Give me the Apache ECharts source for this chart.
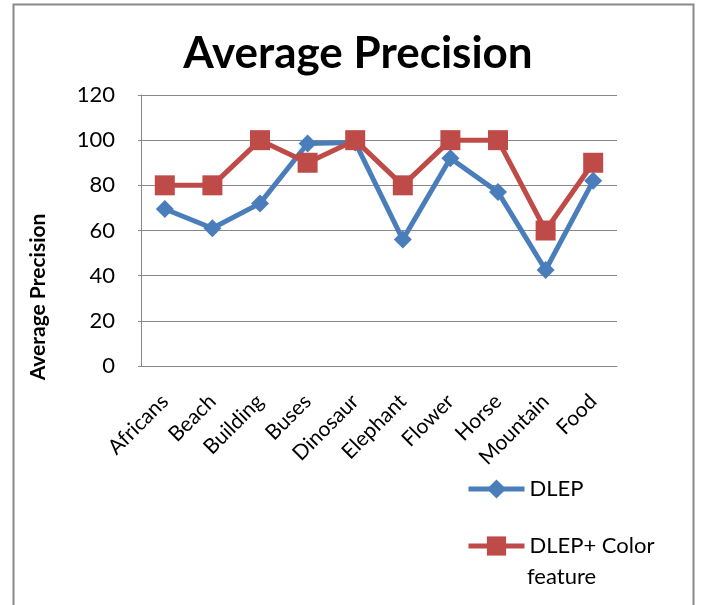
<!DOCTYPE html>
<html>
<head>
<meta charset="utf-8">
<script src="https://cdn.jsdelivr.net/npm/echarts@6/dist/echarts.min.js"></script>
<style>
  html, body { margin: 0; padding: 0; background: #fff; }
  #chart { width: 701px; height: 605px; }
</style>
</head>
<body>
<div id="chart"></div>
<script>
// Image categories on the x axis
const categories = ['Africans', 'Beach', 'Building', 'Buses', 'Dinosaur',
                    'Elephant', 'Flower', 'Horse', 'Mountain', 'Food'];
// Average precision per category
const dlep = [69.5, 61, 72, 98.5, 99, 56, 92, 77, 42.5, 82];
const dlepColor = [80, 80, 100, 90, 100, 80, 100, 100, 60, 90];
const seriesNames = ['DLEP', 'DLEP+ Color feature'];
// The long legend entry wraps onto a second line
const legendFirstLine = { 'DLEP': 'DLEP', 'DLEP+ Color feature': 'DLEP+ Color' };
const legendSecondLine = 'feature';

const FONT = 'Lato, "Open Sans", sans-serif';
const BLUE = '#4a7ebb';
const RED = '#be4b48';
const GRID_GRAY = '#888888';

const legendBase = {
  orient: 'vertical',
  left: 461,
  itemWidth: 56,
  itemHeight: 24,
  lineStyle: { width: 5 },
  textStyle: { fontFamily: FONT, fontSize: 22, color: '#000', lineHeight: 32 },
  formatter: name => legendFirstLine[name]
};

const chart = echarts.init(document.getElementById('chart'), null, { renderer: 'canvas' });

chart.setOption({
  animation: false,
  backgroundColor: '#ffffff',
  textStyle: { fontFamily: FONT, color: '#000' },
  title: {
    text: 'Average Precision',
    left: 353,
    textAlign: 'center',
    top: 27,
    textStyle: { fontFamily: FONT, fontSize: 44, fontWeight: 'bold', color: '#000' }
  },
  graphic: [
    {
      type: 'rect',
      shape: { x: 13.5, y: 4.5, width: 680, height: 640 },
      style: { fill: null, stroke: '#8a8a8a', lineWidth: 2 },
      silent: true
    },
    {
      type: 'text',
      x: 38,
      y: 297,
      rotation: Math.PI / 2,
      style: {
        text: 'Average Precision',
        fontFamily: FONT,
        fontSize: 21,
        fontWeight: 'bold',
        fill: '#000',
        align: 'center',
        verticalAlign: 'middle'
      }
    },
    {
      type: 'text',
      x: 527,
      y: 577,
      style: {
        text: legendSecondLine,
        fontFamily: FONT,
        fontSize: 22,
        fill: '#000',
        align: 'left',
        verticalAlign: 'middle'
      }
    }
  ],
  legend: [
    Object.assign({}, legendBase, { top: 468, data: [seriesNames[0]] }),
    Object.assign({}, legendBase, { top: 525, data: [seriesNames[1]] })
  ],
  grid: { left: 141, right: 84, top: 95, bottom: 239, containLabel: false },
  xAxis: {
    type: 'category',
    data: categories,
    boundaryGap: true,
    axisLine: { show: true, lineStyle: { color: GRID_GRAY, width: 1 } },
    axisTick: { show: false },
    axisLabel: {
      rotate: 45,
      interval: 0,
      margin: 32,
      fontFamily: FONT,
      fontSize: 21,
      color: '#000'
    }
  },
  yAxis: {
    type: 'value',
    min: 0,
    max: 120,
    interval: 20,
    axisLine: { show: true, lineStyle: { color: GRID_GRAY, width: 1 } },
    axisTick: { show: true, length: 3, lineStyle: { color: GRID_GRAY } },
    splitLine: { show: true, lineStyle: { color: GRID_GRAY, width: 1 } },
    axisLabel: {
      margin: 26,
      fontFamily: FONT,
      fontSize: 22,
      color: '#000'
    }
  },
  series: [
    {
      name: seriesNames[0],
      type: 'line',
      data: dlep,
      symbol: 'diamond',
      symbolSize: 18,
      showAllSymbol: true,
      color: BLUE,
      lineStyle: { color: BLUE, width: 5 },
      itemStyle: { color: BLUE }
    },
    {
      name: seriesNames[1],
      type: 'line',
      data: dlepColor,
      symbol: 'rect',
      symbolSize: 20,
      showAllSymbol: true,
      color: RED,
      lineStyle: { color: RED, width: 5 },
      itemStyle: { color: RED }
    }
  ]
});
</script>
</body>
</html>
